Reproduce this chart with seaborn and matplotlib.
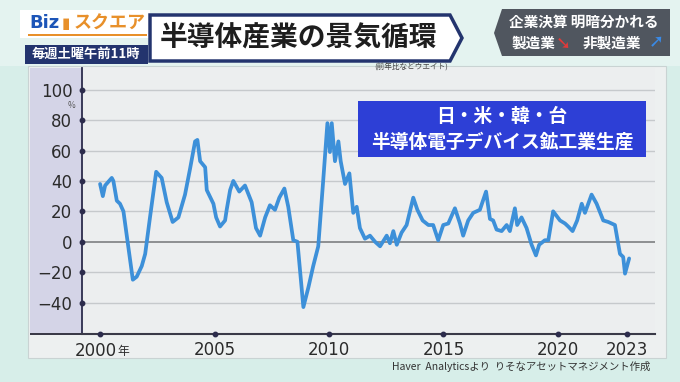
import matplotlib
matplotlib.use('Agg')
import matplotlib.pyplot as plt
from matplotlib.patches import Rectangle, Polygon
import seaborn as sns

# (year, % yoy)
years = [2000.00, 2000.12, 2000.22, 2000.51, 2000.58, 2000.73, 2000.87, 2001.02,
         2001.43, 2001.60, 2001.82, 2001.97, 2002.18, 2002.45, 2002.69, 2002.91,
         2003.17, 2003.42, 2003.71, 2003.93, 2004.15, 2004.25, 2004.37, 2004.59,
         2004.66, 2004.95, 2005.07, 2005.24, 2005.46, 2005.53, 2005.68, 2005.82,
         2006.08, 2006.33, 2006.62, 2006.81, 2006.99, 2007.21, 2007.42, 2007.64,
         2007.83, 2008.05, 2008.22, 2008.44, 2008.62, 2008.88, 2009.10, 2009.31,
         2009.53, 2009.75, 2009.93, 2010.04, 2010.12, 2010.26, 2010.41, 2010.51,
         2010.70, 2010.89, 2011.06, 2011.21, 2011.35, 2011.57, 2011.79, 2012.01,
         2012.23, 2012.52, 2012.66, 2012.81, 2012.96, 2013.17, 2013.39, 2013.68,
         2013.86, 2014.09, 2014.34, 2014.55, 2014.77, 2014.99, 2015.21, 2015.50,
         2015.72, 2015.86, 2016.08, 2016.30, 2016.59, 2016.86, 2017.03, 2017.17,
         2017.32, 2017.54, 2017.76, 2017.90, 2018.12, 2018.22, 2018.41, 2018.63,
         2018.85, 2019.04, 2019.18, 2019.43, 2019.58, 2019.79, 2020.09, 2020.31,
         2020.45, 2020.64, 2020.84, 2021.04, 2021.18, 2021.47, 2021.69, 2021.98,
         2022.20, 2022.49, 2022.71, 2022.85, 2022.93, 2023.11]
values = [38, 30, 37, 42, 40, 27, 25, 20,
          -25, -23, -16, -8, 16, 46, 42, 26,
          13, 16, 31, 48, 66, 67, 53, 49,
          34, 25, 16, 10, 14, 21, 34, 40,
          33, 37, 26, 9, 4, 16, 24, 21,
          29, 35, 23, 1, 0, -43, -30, -16,
          -3, 41, 78, 59, 78, 53, 66, 53,
          38, 45, 19, 23, 9, 2, 4, 0,
          -3, 4, -1, 7, -2, 6, 11, 29,
          21, 14, 11, 11, 1, 11, 12, 22,
          12, 4, 14, 19, 21, 33, 15, 14,
          8, 7, 11, 7, 22, 11, 16, 9,
          -2, -9, -2, 1, 1, 20, 14, 12,
          10, 7, 14, 25, 19, 31, 25, 14,
          13, 11, -8, -10, -21, -11]

y_ticks = [-40, -20, 0, 20, 40, 60, 80, 100]
x_ticks = [2000, 2005, 2010, 2015, 2020, 2023]
x_labels = ['2000', '2005', '2010', '2015', '2020', '2023']

sns.set_theme(style='white')
plt.rcParams['font.family'] = ['Noto Sans CJK JP', 'DejaVu Sans']

W, H = 680, 382
fig = plt.figure(figsize=(6.8, 3.82), dpi=100, facecolor='#d7eee9')


def rect(x0, y0, x1, y1, **kw):
    fig.add_artist(Rectangle((x0 / W, 1 - y1 / H), (x1 - x0) / W, (y1 - y0) / H,
                             transform=fig.transFigure, **kw))


def poly(pts, **kw):
    fig.add_artist(Polygon([(x / W, 1 - y / H) for x, y in pts], closed=True,
                           transform=fig.transFigure, **kw))


def txt(x, y, s, **kw):
    fig.text(x / W, 1 - y / H, s, **kw)


# panel behind the chart (below the axes)
rect(0, 0, 680, 66, fc='#e4f3f0', ec='none', zorder=-3)
rect(28, 66, 666, 358, fc='#edf0f0', ec='#c9d3d3', lw=0.8, zorder=-2)
rect(30, 68, 82, 334, fc='#d4d4e7', ec='none', zorder=-1)
rect(30, 333.3, 82, 334.8, fc='#3a3a48', ec='none', zorder=-1)

ax = fig.add_axes([82 / W, 1 - 334 / H, (655 - 82) / W, (334 - 68) / H])
ax.set_facecolor('#eceeef')
ax.set_xlim(1999.21, 2024.24)
ax.set_ylim(-60.7, 114.3)

for v in y_ticks:
    ax.axhline(v, color='#85878a' if v == 0 else '#c6c9cc', lw=1.3 if v == 0 else 1.0, zorder=1)

sns.lineplot(x=years, y=values, ax=ax, color='#3d90d9', linewidth=2.7, zorder=3)

for s in ['top', 'right']:
    ax.spines[s].set_visible(False)
ax.spines['left'].set_color('#2c2c4c')
ax.spines['left'].set_linewidth(1.3)
ax.spines['bottom'].set_color('#3a3a48')
ax.spines['bottom'].set_linewidth(1.5)

ax.set_yticks(y_ticks)
ax.set_yticklabels([str(v).replace('-', '\u2212') for v in y_ticks], fontsize=12, color='#2b2b2b',
                   family=['DejaVu Sans'])
ax.set_xticks(x_ticks)
# first label is drawn by hand below so that the small 年 can follow it
ax.set_xticklabels([''] + x_labels[1:], fontsize=12, color='#2b2b2b', family=['DejaVu Sans'])
ax.tick_params(axis='y', length=0, pad=7)
ax.tick_params(axis='x', length=0, pad=5)
ax.plot([1999.21] * len(y_ticks), y_ticks, 'o', ms=3.2, color='#2c2c4c', clip_on=False, zorder=5)
ax.plot(x_ticks, [-60.7] * len(x_ticks), 'o', ms=3.2, color='#2c2c4c', clip_on=False, zorder=5)
ax.set_xlabel('')
ax.set_ylabel('')
ax.annotate(x_labels[0], xy=(x_ticks[0], 0), xycoords=ax.get_xaxis_transform(),
            xytext=(12, -12.3), textcoords='offset points', fontsize=12, color='#2b2b2b',
            ha='right', va='center', family=['DejaVu Sans'])
ax.annotate('年', xy=(x_ticks[0], 0), xycoords=ax.get_xaxis_transform(),
            xytext=(12.5, -12.8), textcoords='offset points', fontsize=8.5, color='#2b2b2b',
            ha='left', va='center')

txt(71, 105, '%', fontsize=6, color='#555', ha='center', va='center')

# blue caption box
rect(358, 101, 646, 157, fc='#2d3fd6', ec='none')
txt(502, 116, '日・米・韓・台', fontsize=13.5, color='white', weight='bold', ha='center', va='center')
txt(502, 142, '半導体電子デバイス鉱工業生産', fontsize=13.5, color='white', weight='bold',
    ha='center', va='center')

# header: logo
rect(20, 10, 150, 38, fc='white', ec='none')
rect(28, 34, 147, 36, fc='#e8902a', ec='none')
txt(29, 23, 'Biz', fontsize=13, color='#1c55b8', weight='bold', ha='left', va='center',
    family=['DejaVu Sans'])
txt(62, 23, '▮', fontsize=11, color='#e8902a', ha='left', va='center')
txt(74, 23, 'スクエア', fontsize=13, color='#e8902a', weight='bold', ha='left', va='center')
rect(25, 45, 148, 64, fc='#23346e', ec='none')
txt(86, 54, '毎週土曜午前11時', fontsize=9.5, color='white', weight='bold', ha='center', va='center')

# header: title banner
poly([(150, 15), (450, 15), (462, 38), (450, 61), (150, 61)], fc='white', ec='#23346e', lw=2.5)
txt(298, 38, '半導体産業の景気循環', fontsize=20, color='#1e1e1e', weight='bold',
    ha='center', va='center')
txt(411, 68, '(前年比などウエイト)', fontsize=5.5, color='#444', ha='center', va='center')

# header: right box
poly([(502, 9), (670, 9), (670, 56), (502, 56), (494, 33)], fc='#50565f', ec='none')
txt(584, 22, '企業決算 明暗分かれる', fontsize=10.5, color='white', weight='bold',
    ha='center', va='center')
txt(533, 43, '製造業', fontsize=10.5, color='white', weight='bold', ha='center', va='center')
txt(563, 44, '➘', fontsize=13, color='#e03a3a', weight='bold', ha='center', va='center',
    family=['DejaVu Sans'])
txt(612, 43, '非製造業', fontsize=10.5, color='white', weight='bold', ha='center', va='center')
txt(656, 42, '➚', fontsize=13, color='#3a8ae6', weight='bold', ha='center', va='center',
    family=['DejaVu Sans'])

# source
txt(650, 367, 'Haver  Analyticsより  りそなアセットマネジメント作成', fontsize=7.5, color='#333',
    ha='right', va='center')

fig.savefig('out.png', dpi=100, facecolor=fig.get_facecolor())
